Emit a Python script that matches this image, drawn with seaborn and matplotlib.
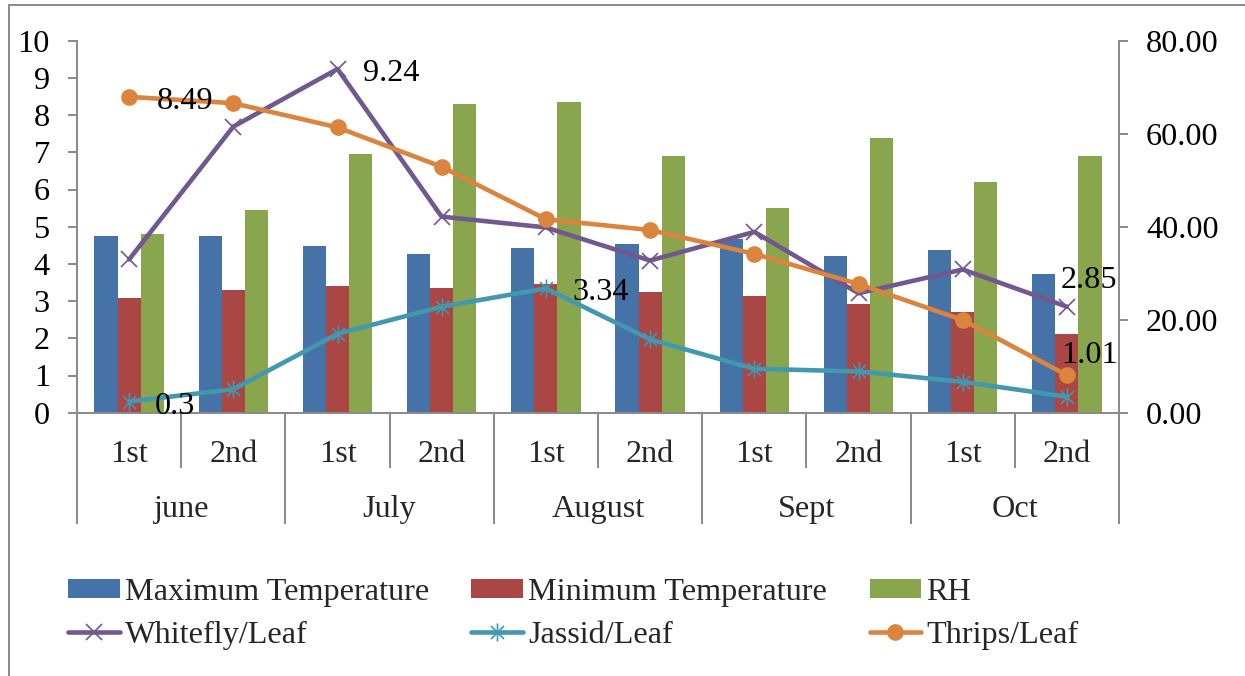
import matplotlib
matplotlib.use("Agg")
import matplotlib.pyplot as plt
import seaborn as sns
import pandas as pd
from matplotlib.lines import Line2D
from matplotlib.patches import Patch
from matplotlib.path import Path
from matplotlib.ticker import FormatStrFormatter, MultipleLocator
from matplotlib.transforms import blended_transform_factory

# ---- data ---------------------------------------------------------------
periods = ["1st", "2nd", "1st", "2nd", "1st", "2nd", "1st", "2nd", "1st", "2nd"]
months = ["june", "July", "August", "Sept", "Oct"]

max_temp = [38.0, 38.0, 35.8, 34.1, 35.4, 36.3, 37.4, 33.7, 35.0, 29.8]
min_temp = [24.6, 26.4, 27.2, 26.8, 27.7, 25.9, 25.1, 23.4, 21.6, 16.9]
rh = [38.4, 43.6, 55.6, 66.4, 66.8, 55.2, 44.0, 59.1, 49.6, 55.2]

whitefly = [4.12, 7.69, 9.24, 5.27, 4.98, 4.09, 4.86, 3.21, 3.85, 2.85]
jassid = [0.30, 0.63, 2.12, 2.85, 3.34, 1.97, 1.18, 1.11, 0.83, 0.43]
thrips = [8.49, 8.32, 7.67, 6.61, 5.20, 4.91, 4.27, 3.46, 2.49, 1.01]

bar_names = ["Maximum Temperature", "Minimum Temperature", "RH"]
bar_colors = ["#4572A7", "#AA4643", "#89A54E"]

# ---- style --------------------------------------------------------------
sns.set_theme(style="white")
plt.rcParams["font.family"] = ["Liberation Serif", "DejaVu Serif"]
FS = 23.2
GRAY = "#898989"
LW = 3.3

# asterisk marker: a vertical stroke crossed by an X
d = 0.72
asterisk = Path(
    [(0, -1), (0, 1), (-d, -d), (d, d), (-d, d), (d, -d)],
    [Path.MOVETO, Path.LINETO] * 3,
)

fig = plt.figure(figsize=(12.45, 6.76), dpi=100)
ax_bar = fig.add_axes([77 / 1245, (676 - 412.7) / 676, 1042 / 1245, 372 / 676])
ax_line = ax_bar.twinx()

# ---- bars (right-hand scale) -------------------------------------------
pos = list(range(len(periods)))
bars = pd.DataFrame({
    "pos": pos * 3,
    "series": [bar_names[0]] * 10 + [bar_names[1]] * 10 + [bar_names[2]] * 10,
    "value": max_temp + min_temp + rh,
})
sns.barplot(data=bars, x="pos", y="value", hue="series", hue_order=bar_names,
            palette=bar_colors, width=3 / 4.5, gap=0, linewidth=0,
            saturation=1, errorbar=None, legend=False, ax=ax_bar)

ax_bar.set_ylim(0, 80)
ax_bar.set_xlim(-0.5, 9.5)
ax_bar.yaxis.set_major_locator(MultipleLocator(20))
ax_bar.yaxis.set_major_formatter(FormatStrFormatter("%.2f"))
ax_bar.yaxis.tick_right()
ax_bar.set_xlabel("")
ax_bar.set_ylabel("")

# ---- lines (left-hand scale) -------------------------------------------
line_specs = [
    ("Whitefly/Leaf", whitefly, "#71588F", dict(marker="x", markersize=12, markeredgewidth=1.2)),
    ("Jassid/Leaf", jassid, "#4198AF", dict(marker=asterisk, markersize=13, markeredgewidth=1.2)),
    ("Thrips/Leaf", thrips, "#DB843D", dict(marker="o", markersize=12, markeredgewidth=0)),
]
for name, vals, col, mk in line_specs:
    sns.lineplot(x=pos, y=vals, color=col, linewidth=LW, ax=ax_line,
                 markerfacecolor=col, markeredgecolor=col, **mk)

ax_line.set_ylim(0, 10)
ax_line.yaxis.set_major_locator(MultipleLocator(1))
ax_line.yaxis.tick_left()
ax_line.set_xlim(-0.5, 9.5)

# value labels on selected points: (series, index, dx px, dy px)
value_labels = [
    (thrips, 0, 28, -12),
    (jassid, 0, 26, -12),
    (whitefly, 2, 26, -12),
    (jassid, 4, 26, -12),
    (whitefly, 9, -6, 19),
    (thrips, 9, -6, 12),
]
for vals, i, dx, dy in value_labels:
    ax_line.annotate(f"{vals[i]:g}", xy=(i, vals[i]), xytext=(dx, dy),
                     textcoords="offset pixels", ha="left", va="baseline",
                     fontsize=FS, color="black")

# ---- axes styling ------------------------------------------------------
for ax in (ax_bar, ax_line):
    ax.set_xticks(pos)
    ax.tick_params(axis="x", length=0, labelbottom=False, labeltop=False)
    for s in ax.spines.values():
        s.set_visible(False)
        s.set_color(GRAY)
        s.set_linewidth(1.4)

ax_bar.spines["right"].set_visible(True)
ax_bar.spines["bottom"].set_visible(True)
ax_line.spines["left"].set_visible(True)

ax_bar.tick_params(axis="y", direction="out", length=6.5, width=1.4, color=GRAY,
                   pad=13, labelsize=FS, labelcolor="black", right=True, left=False)
ax_line.tick_params(axis="y", direction="out", length=6.5, width=1.4, color=GRAY,
                    pad=13, labelsize=FS, labelcolor="black", left=True, right=False,
                    labelleft=True, labelright=False)

# ---- two-level category axis -------------------------------------------
trans = blended_transform_factory(ax_bar.transData, ax_bar.transAxes)
for i, p in enumerate(periods):
    ax_bar.text(i, -0.1325, p, transform=trans, ha="center", va="baseline", fontsize=FS)
for m, name in enumerate(months):
    ax_bar.text(2 * m + 0.5, -0.2804, name, transform=trans, ha="center",
                va="baseline", fontsize=FS)
for b in range(len(periods) + 1):
    y_end = -0.298 if b % 2 == 0 else -0.148
    ax_bar.plot([b - 0.5, b - 0.5], [0, y_end], transform=trans, clip_on=False,
                color=GRAY, linewidth=1.4, solid_capstyle="butt")

# ---- legend -------------------------------------------------------------
bar_handles = [Patch(facecolor=c, edgecolor="none") for c in bar_colors]
line_handles = [Line2D([], [], color=col, linewidth=LW, markerfacecolor=col,
                       markeredgecolor=col, solid_capstyle="round", **mk)
                for _, _, col, mk in line_specs]
handles = [bar_handles[0], line_handles[0], bar_handles[1], line_handles[1],
           bar_handles[2], line_handles[2]]
labels = [bar_names[0], line_specs[0][0], bar_names[1], line_specs[1][0],
          bar_names[2], line_specs[2][0]]
fig.legend(handles, labels, loc="upper left", bbox_to_anchor=(68 / 1245, 1 - 578 / 676),
           ncol=3, frameon=False, fontsize=FS, borderpad=0, borderaxespad=0,
           handlelength=1.6, handleheight=0.5, handletextpad=0.16,
           columnspacing=1.32, labelspacing=0.42)

# ---- outer chart frame ---------------------------------------------------
fx, fy = 9 / 1245, 1 - 5 / 676
fig.add_artist(Line2D([fx, fx], [0, fy], transform=fig.transFigure, color=GRAY, linewidth=1.4))
fig.add_artist(Line2D([fx, 1], [fy, fy], transform=fig.transFigure, color=GRAY, linewidth=1.4))

fig.savefig("out.png", dpi=100, facecolor="white")
